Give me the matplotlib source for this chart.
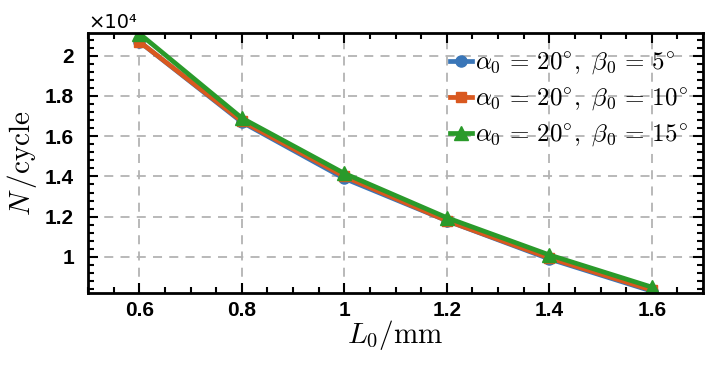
import matplotlib
matplotlib.use("Agg")
import matplotlib.pyplot as plt
from matplotlib.ticker import FuncFormatter, MultipleLocator

plt.rcParams["mathtext.fontset"] = "cm"
plt.rcParams["font.family"] = ["Liberation Sans", "DejaVu Sans"]

# L0 in mm, fatigue life N in cycles
L0 = [0.6, 0.8, 1.0, 1.2, 1.4, 1.6]
N_beta5 = [20700, 16700, 13900, 11800, 9900, 8300]
N_beta10 = [20700, 16750, 14000, 11800, 9950, 8350]
N_beta15 = [21100, 16900, 14150, 11950, 10100, 8500]

labels = [r"$\alpha_0\,=\,20^{\circ},\ \beta_0\,=\,5^{\circ}$",
          r"$\alpha_0\,=\,20^{\circ},\ \beta_0\,=\,10^{\circ}$",
          r"$\alpha_0\,=\,20^{\circ},\ \beta_0\,=\,15^{\circ}$"]

fig = plt.figure(figsize=(7.16, 3.66), dpi=100)
ax = fig.add_axes([0.123, 0.199, 0.859, 0.711])

ax.plot(L0, N_beta5, color="#3a76b8", lw=3.4, marker="o", ms=8, label=labels[0])
ax.plot(L0, N_beta10, color="#d9581f", lw=3.4, marker="s", ms=7, label=labels[1])
ax.plot(L0, N_beta15, color="#2a9a2a", lw=3.4, marker="^", ms=10, label=labels[2])

ax.set_xlim(0.5, 1.7)
ax.set_ylim(8200, 21130)
ax.xaxis.set_major_locator(MultipleLocator(0.2))
ax.xaxis.set_minor_locator(MultipleLocator(0.05))
ax.yaxis.set_major_locator(MultipleLocator(2000))
ax.yaxis.set_minor_locator(MultipleLocator(400))
ax.xaxis.set_major_formatter(FuncFormatter(lambda v, p: f"{v:g}"))
ax.yaxis.set_major_formatter(FuncFormatter(lambda v, p: f"{v / 1e4:g}"))

ax.tick_params(which="both", direction="in", top=True, right=True, width=1.5)
ax.tick_params(which="major", length=7, labelsize=15)
ax.tick_params(axis="x", which="major", pad=6)
ax.tick_params(axis="y", which="major", pad=10)
ax.tick_params(which="minor", length=4)
for lbl in ax.get_xticklabels() + ax.get_yticklabels():
    lbl.set_fontweight("bold")
for s in ax.spines.values():
    s.set_linewidth(2)

ax.grid(True, which="major", ls=(0, (5, 4)), color="0.7", lw=1.3)

ax.text(0.0, 1.005, "×10⁴", transform=ax.transAxes, fontsize=14,
        family=["DejaVu Sans"], va="bottom", ha="left")

ax.set_xlabel(r"$L_0/\mathrm{mm}$", fontsize=21, labelpad=-2)
ax.set_ylabel(r"$N\,/\mathrm{cycle}$", fontsize=21, labelpad=4)

ax.legend(loc="upper right", frameon=False, fontsize=18, handlelength=0.9,
          handletextpad=0.1, borderaxespad=0.1, labelspacing=0.38,
          bbox_to_anchor=(0.995, 0.98))

fig.savefig("out.png", dpi=100)
